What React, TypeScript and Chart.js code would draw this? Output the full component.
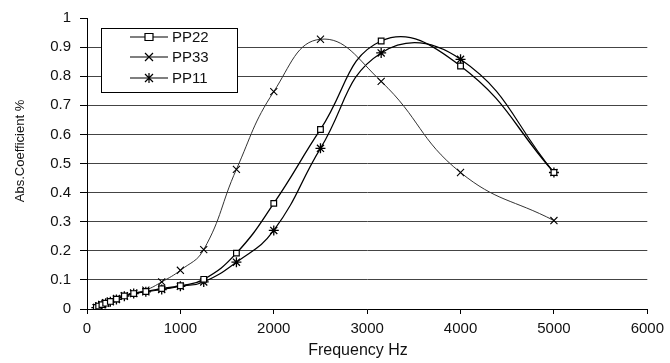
import React, { useEffect, useRef } from "react";
import { Chart, registerables } from "chart.js";

Chart.register(...registerables);

const FREQ = [100, 125, 160, 200, 250, 315, 400, 500, 630, 800, 1000, 1250, 1600, 2000, 2500, 3150, 4000, 5000];
const PP22 = [0.005, 0.01, 0.015, 0.02, 0.026, 0.034, 0.045, 0.053, 0.06, 0.07, 0.08, 0.102, 0.192, 0.363, 0.617, 0.921, 0.835, 0.469];
const PP33 = [0.005, 0.01, 0.016, 0.022, 0.028, 0.036, 0.046, 0.055, 0.065, 0.093, 0.133, 0.204, 0.48, 0.747, 0.927, 0.782, 0.469, 0.304];
const PP11 = [0.005, 0.01, 0.015, 0.02, 0.025, 0.033, 0.044, 0.053, 0.059, 0.067, 0.078, 0.093, 0.161, 0.27, 0.552, 0.88, 0.858, 0.469];
const SERIES_NAMES = ["PP22", "PP33", "PP11"];
const X_TITLE = "Frequency Hz";
const Y_TITLE = "Abs.Coefficient %";

const FONT = "'Liberation Sans', Arial, sans-serif";

function drawMarker(ctx: CanvasRenderingContext2D, kind: string, x: number, y: number) {
  ctx.save();
  ctx.strokeStyle = "#000";
  ctx.lineWidth = 1.2;
  ctx.beginPath();
  if (kind === "rect") {
    ctx.fillStyle = "#fff";
    ctx.rect(x - 4, y - 3.5, 8, 7);
    ctx.fill();
    ctx.stroke();
  } else if (kind === "crossRot") {
    ctx.moveTo(x - 4, y - 4);
    ctx.lineTo(x + 4, y + 4);
    ctx.moveTo(x + 4, y - 4);
    ctx.lineTo(x - 4, y + 4);
    ctx.stroke();
  } else {
    ctx.moveTo(x - 4, y - 4);
    ctx.lineTo(x + 4, y + 4);
    ctx.moveTo(x + 4, y - 4);
    ctx.lineTo(x - 4, y + 4);
    ctx.moveTo(x, y - 5);
    ctx.lineTo(x, y + 5);
    ctx.stroke();
  }
  ctx.restore();
}

const MARKERS = ["rect", "crossRot", "star"];

const legendBox = {
  id: "legendBox",
  beforeDatasetsDraw(chart: any) {
    const ctx = chart.ctx as CanvasRenderingContext2D;
    ctx.save();
    ctx.fillStyle = "#fff";
    ctx.fillRect(101.5, 28.5, 136, 64);
    ctx.strokeStyle = "#000";
    ctx.lineWidth = 1;
    ctx.strokeRect(101.5, 28.5, 136, 64);
    const rows = [37, 57, 78];
    SERIES_NAMES.forEach((name, i) => {
      const y = rows[i];
      ctx.strokeStyle = "#000";
      ctx.lineWidth = 1.2;
      ctx.beginPath();
      ctx.moveTo(130, y);
      ctx.lineTo(168, y);
      ctx.stroke();
      drawMarker(ctx, MARKERS[i], 149, y);
      ctx.fillStyle = "#111";
      ctx.font = `15px ${FONT}`;
      ctx.textAlign = "left";
      ctx.textBaseline = "middle";
      ctx.fillText(name, 172, y + 0.5);
    });
    ctx.restore();
  },
};

const axisTitles = {
  id: "axisTitles",
  afterDraw(chart: any) {
    const ctx = chart.ctx as CanvasRenderingContext2D;
    ctx.save();
    ctx.fillStyle = "#111";
    ctx.font = `13px ${FONT}`;
    ctx.textAlign = "center";
    ctx.textBaseline = "middle";
    ctx.translate(20, 151);
    ctx.rotate(-Math.PI / 2);
    ctx.fillText(Y_TITLE, 0, 0);
    ctx.restore();
    ctx.save();
    ctx.fillStyle = "#111";
    ctx.font = `16px ${FONT}`;
    ctx.textAlign = "center";
    ctx.textBaseline = "middle";
    ctx.fillText(X_TITLE, 358, 351);
    ctx.restore();
  },
};

export default function App() {
  const ref = useRef<HTMLCanvasElement | null>(null);
  useEffect(() => {
    if (!ref.current) return;
    const mk = (vals: number[]) => FREQ.map((f, i) => ({ x: f, y: vals[i] }));
    const chart = new Chart(ref.current, {
      type: "line",
      data: {
        datasets: [
          {
            label: SERIES_NAMES[0],
            data: mk(PP22),
            borderColor: "#000",
            borderWidth: 1.3,
            pointStyle: "rect",
            pointRadius: 4,
            pointBackgroundColor: "#fff",
            pointBorderColor: "#000",
            pointBorderWidth: 1.2,
            tension: 0.45,
          },
          {
            label: SERIES_NAMES[1],
            data: mk(PP33),
            borderColor: "#333",
            borderWidth: 1,
            pointStyle: "crossRot",
            pointRadius: 5,
            pointBorderColor: "#000",
            pointBorderWidth: 1.1,
            tension: 0.45,
          },
          {
            label: SERIES_NAMES[2],
            data: mk(PP11),
            borderColor: "#000",
            borderWidth: 1.2,
            pointStyle: "star",
            pointRadius: 5,
            pointBorderColor: "#000",
            pointBorderWidth: 1.3,
            tension: 0.45,
          },
        ],
      },
      options: {
        responsive: false,
        animation: false,
        events: [],
        layout: { padding: { top: 16, right: 21, left: 0, bottom: 0 } },
        plugins: { legend: { display: false }, tooltip: { enabled: false } },
        scales: {
          x: {
            type: "linear",
            min: 0,
            max: 6000,
            afterFit: (s: any) => {
              s.height = 54;
            },
            ticks: {
              stepSize: 1000,
              color: "#111",
              font: { family: FONT, size: 15 },
              padding: 6,
              maxRotation: 0,
              autoSkip: false,
              callback: (v: any) => String(Math.round(Number(v))),
            },
            grid: { drawOnChartArea: false, drawTicks: true, tickLength: 5, color: "#000" },
            border: { display: true, color: "#000", width: 1 },
          },
          y: {
            type: "linear",
            min: 0,
            max: 1,
            afterFit: (s: any) => {
              s.width = 87;
            },
            ticks: {
              stepSize: 0.1,
              color: "#111",
              font: { family: FONT, size: 15 },
              padding: 9,
              callback: (v: any) => String(Math.round(Number(v) * 10) / 10),
            },
            grid: {
              drawOnChartArea: true,
              tickLength: 7,
              color: (c: any) => (c.tick && Math.abs(c.tick.value - 1) < 1e-6 ? "rgba(0,0,0,0)" : "#444"),
              tickColor: "#000",
              lineWidth: 1,
            },
            border: { display: true, color: "#000", width: 1 },
          },
        },
      },
      plugins: [legendBox, axisTitles],
    });
    return () => chart.destroy();
  }, []);
  return (
    <div style={{ position: "fixed", left: 0, top: 0, width: 670, height: 363, background: "#fff" }}>
      <canvas ref={ref} width={670} height={363} />
    </div>
  );
}
